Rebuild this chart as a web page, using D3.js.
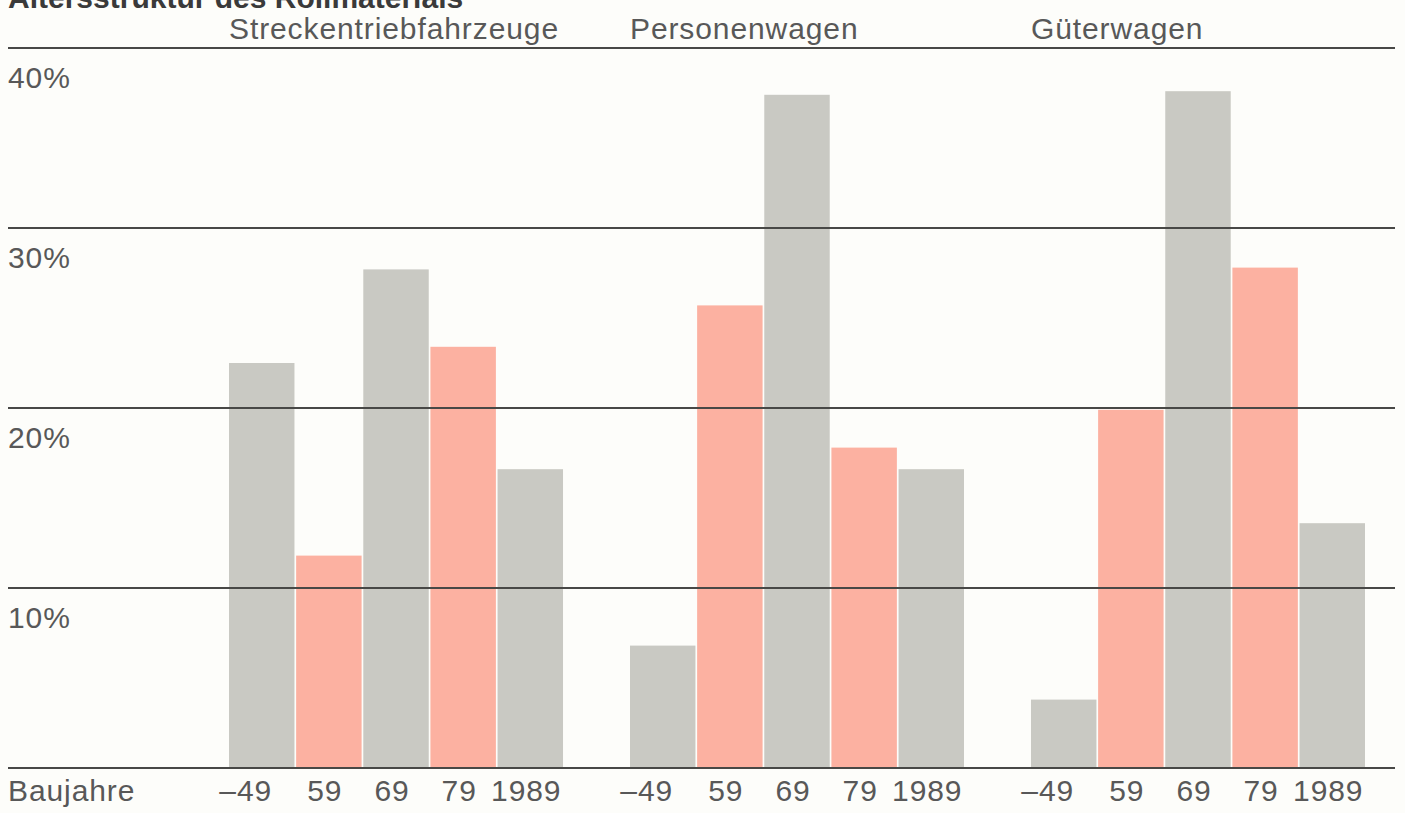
<!DOCTYPE html>
<html lang="de">
<head>
    <meta charset="UTF-8">
    <title> Altersstruktur des Rollmaterials </title>
    <script type="text/javascript" src="https://cdn.jsdelivr.net/npm/d3@7/dist/d3.min.js"></script>
    <style type="text/css">
        body { margin: 0; background: #fdfdfa; }
        svg { display: block; }
    </style>
</head>
<body>
    <script type="text/javascript">
        //Width and height
        var w = 1405;
        var h = 813;

        //Data
        var title = "Altersstruktur des Rollmaterials";
        var groups = ["Streckentriebfahrzeuge", "Personenwagen", "Güterwagen"];
        var years = ["–49", "59", "69", "79", "1989"];
        var streckentriebfahrzeuge = [22.5, 11.8, 27.7, 23.4, 16.6];
        var personenwagen = [6.8, 25.7, 37.4, 17.8, 16.6];
        var gueterwagen = [3.8, 19.9, 37.6, 27.8, 13.6];
        var yTicks = [0, 10, 20, 30, 40];
        var xAxisLabel = "Baujahre";

        var values = [streckentriebfahrzeuge, personenwagen, gueterwagen];

        var textColor = "#585858";
        var fontFamily = "'Liberation Sans', Arial, Helvetica, sans-serif";
        var fontSize = "30px";
        var spacing = "0.9px";

        //Scales
        var groupScale = d3.scaleBand()
            .domain(groups)
            .range([229, 1365])
            .paddingInner(0.167);

        var yearScale = d3.scaleBand()
            .domain(years)
            .range([0, groupScale.bandwidth()])
            .paddingInner(0.025);

        var yScale = d3.scaleLinear()
            .domain([0, 40])
            .range([768, 48]);

        //Create SVG element
        var svg = d3.select("body")
            .append("svg")
            .attr("width", w)
            .attr("height", h);

        //Title (cut off at the top, as in the print)
        svg.append("text")
            .text(title)
            .attr("x", 8)
            .attr("y", 8)
            .attr("font-family", fontFamily)
            .attr("font-weight", "bold")
            .attr("font-size", "30px")
            .attr("fill", "#3a3a3a");

        //Bars, one group per vehicle type
        var groupG = svg.selectAll("g.group")
            .data(groups)
            .enter()
            .append("g")
            .attr("class", "group")
            .attr("transform", function(d) {
                return "translate(" + groupScale(d) + ",0)";
            });

        groupG.selectAll("rect")
            .data(function(d, i) {
                return values[i].map(function(v, j) {
                    return { year: years[j], value: v, idx: j };
                });
            })
            .enter()
            .append("rect")
            .attr("x", function(d) { return yearScale(d.year); })
            .attr("y", function(d) { return yScale(d.value); })
            .attr("width", yearScale.bandwidth())
            .attr("height", function(d) { return yScale(0) - yScale(d.value); })
            .attr("fill", function(d) {
                return d.idx % 2 === 0 ? "#c9c9c3" : "#fcb1a1";
            });

        //Group headings
        groupG.append("text")
            .text(function(d) { return d; })
            .attr("x", 0)
            .attr("y", 39)
            .attr("font-family", fontFamily)
            .attr("font-size", fontSize)
            .attr("letter-spacing", spacing)
            .attr("fill", textColor);

        //Year labels under each group
        groupG.selectAll("text.year")
            .data(years)
            .enter()
            .append("text")
            .attr("class", "year")
            .text(function(d) { return d; })
            .attr("text-anchor", "middle")
            .attr("x", function(d) {
                // the leading dash hangs out to the left
                var shift = d.charAt(0) === "–" ? -16 : -4;
                return yearScale(d) + yearScale.bandwidth() / 2 + shift;
            })
            .attr("y", 801)
            .attr("font-family", fontFamily)
            .attr("font-size", fontSize)
            .attr("letter-spacing", spacing)
            .attr("fill", textColor);

        //Gridlines (drawn over the bars)
        svg.selectAll("line.grid")
            .data(yTicks)
            .enter()
            .append("line")
            .attr("class", "grid")
            .attr("x1", 8)
            .attr("x2", 1395)
            .attr("y1", function(d) { return yScale(d); })
            .attr("y2", function(d) { return yScale(d); })
            .attr("stroke", "#484846")
            .attr("stroke-width", 2);

        //Percent labels, below each gridline
        svg.selectAll("text.tick")
            .data(yTicks.filter(function(d) { return d > 0; }))
            .enter()
            .append("text")
            .attr("class", "tick")
            .text(function(d) { return d + "%"; })
            .attr("x", 8)
            .attr("y", function(d) { return yScale(d) + 40; })
            .attr("font-family", fontFamily)
            .attr("font-size", fontSize)
            .attr("letter-spacing", spacing)
            .attr("fill", textColor);

        //Axis label
        svg.append("text")
            .text(xAxisLabel)
            .attr("x", 8)
            .attr("y", 801)
            .attr("font-family", fontFamily)
            .attr("font-size", fontSize)
            .attr("letter-spacing", spacing)
            .attr("fill", textColor);
    </script>
</body>
</html>
